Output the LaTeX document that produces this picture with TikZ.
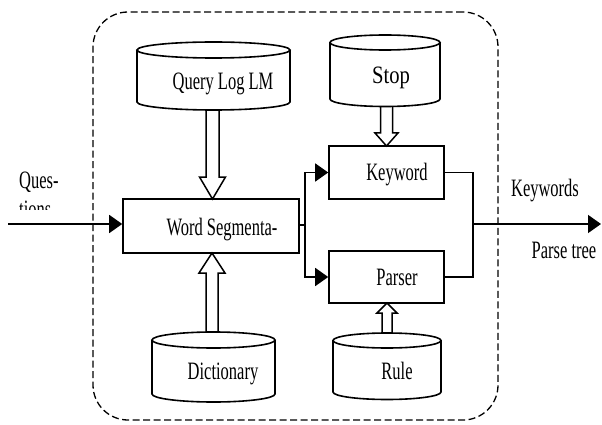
\documentclass[tikz,border=0pt]{standalone}
\usepackage{fontspec}
\setmainfont{Liberation Serif}[FakeStretch=0.66]
\usetikzlibrary{arrows.meta}

% database drum: name, centre x, top-ellipse y, bottom-ellipse y, x radius, y radius
\newcommand\drum[6]{%
  \coordinate (#1) at (#2,#3);
  \draw[drumline] (#2,#3) ellipse[x radius=#5, y radius=#6];
  \draw[drumline] (#2-#5,#3) -- (#2-#5,#4)
    arc[start angle=180, end angle=360, x radius=#5, y radius=#6]
    -- (#2+#5,#3);
}
% open block arrow: centre x, start y, head base y, tip y, shaft half width, head half width
\newcommand\fatarrow[6]{%
  \draw[hollow] (#1-#5,#2) -- (#1-#5,#3) -- (#1-#6,#3) -- (#1,#4)
    -- (#1+#6,#3) -- (#1+#5,#3) -- (#1+#5,#2);
}

\begin{document}
\begin{tikzpicture}[x=1pt,y=1pt,
  every node/.style={font=\fontsize{25}{29}\selectfont, inner sep=0pt},
  wire/.style={line width=1.6pt},
  flow/.style={wire, -{Triangle[length=13pt,width=18pt]}},
  box/.style={draw, line width=1.6pt},
  lbl/.style={anchor=base},
  hollow/.style={line width=1.5pt, line join=miter},
  drumline/.style={line width=1.6pt},
  frame/.style={draw, line width=1.3pt, dash pattern=on 7pt off 3.5pt,
    rounded corners=35pt}
]
\useasboundingbox (0,0) rectangle (602,-425);
\fill[white] (0,0) rectangle (602,-425);

% dashed system boundary
\node[frame, minimum width=405pt, minimum height=408pt] (sys) at (295.5,-216) {};

% data stores
\drum{qlm}{213.5}{-50}{-102}{76.5}{8}
\drum{stop}{385}{-42.5}{-99}{55}{7.5}
\drum{dict}{213.5}{-340}{-394}{61.5}{8}
\drum{rule}{387}{-340.5}{-392}{54}{7.5}
\node[lbl] (qlmt)  at (223,-90)  {Query Log LM};
\node[lbl] (stopt) at (391,-84)  {\scalebox{1.25}[1]{Stop}};
\node[lbl] (dictt) at (223,-379) {Dictionary};
\node[lbl] (rulet) at (397,-379) {Rule};

% processing steps
\node[box, minimum width=176pt, minimum height=54pt] (ws) at (211,-226) {};
\node[box, minimum width=115pt, minimum height=53pt] (kw) at (386.5,-172.5) {};
\node[box, minimum width=115pt, minimum height=52pt] (ps) at (386.5,-277) {};
\node[lbl] (wst) at (222,-235) {Word Segmenta-};
\node[lbl] (kwt) at (397,-180) {Keyword};
\node[lbl] (pst) at (397,-285) {Parser};

% resources feeding the steps
\fatarrow{212.5}{-110}{-177}{-199}{6.5}{13}
\fatarrow{212}{-332}{-273}{-253}{6}{13}
\fatarrow{386.5}{-107}{-133}{-146}{6}{11.5}
\fatarrow{387}{-333}{-313}{-303}{5}{10}

% input
\coordinate (qin) at (8,-224);
\draw[flow] (qin) -- (qin -| ws.west);
\node[lbl, anchor=base west] (q1) at (19,-188) {Ques-};
\begin{scope}
  \clip (0,-195) rectangle (80,-209);
  \node[anchor=base west] (q2) at (19,-217) {tions};
\end{scope}

% split into keyword extraction and parsing
\coordinate (split) at (305,-225);
\draw[wire] (ws.east |- split) -- (split);
\draw[flow] (split) |- (kw.west);
\draw[flow] (split) |- (ps.west);

% merged output
\coordinate (merge) at (473,-224);
\coordinate (qout) at (601,-224);
\draw[wire] (kw.east) -| (merge) |- (ps.east);
\draw[flow] (merge) -- (qout);
\node[lbl] (kws) at (545,-196) {Keywords};
\node[lbl] (pt)  at (564,-258) {Parse tree};
\end{tikzpicture}
\end{document}
